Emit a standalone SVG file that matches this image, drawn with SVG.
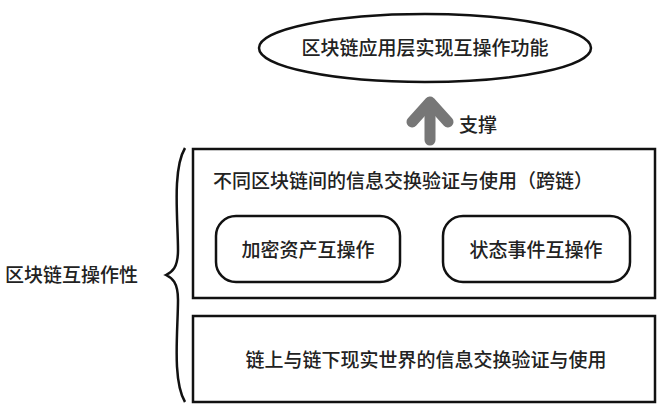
<svg xmlns="http://www.w3.org/2000/svg" width="663" height="413" viewBox="0 0 663 413">
<style>
text{font-family:"Noto Sans CJK SC",sans-serif;fill:#222;font-size:19px;font-weight:500}
.b{fill:#fff;stroke:#111;stroke-width:2.5}
</style>
<rect width="663" height="413" fill="#fff"/>
<g id="top"><ellipse class="b" cx="425" cy="48" rx="166" ry="34"/><text x="425" y="55" text-anchor="middle" font-size="21">区块链应用层实现互操作功能</text></g>
<g id="connectors">
<path d="M430 140V108" stroke="#777" stroke-width="11" stroke-linecap="round" fill="none"/>
<path d="M412 122L430 102L448 122" stroke="#777" stroke-width="11" stroke-linecap="round" stroke-linejoin="round" fill="none"/>
<text x="459" y="132" font-size="20">支撑</text>
</g>
<g id="crosschain"><rect class="b" x="193" y="149" width="462" height="149"/><text x="213" y="188" font-size="21">不同区块链间的信息交换验证与使用（跨链）</text></g>
<g id="asset"><rect class="b" x="216" y="216" width="184" height="66" rx="20"/><text x="308" y="257" text-anchor="middle" font-size="18.5">加密资产互操作</text></g>
<g id="event"><rect class="b" x="443" y="216" width="187" height="66" rx="20"/><text x="536" y="257" text-anchor="middle" font-size="18.5">状态事件互操作</text></g>
<g id="offchain"><rect class="b" x="193" y="316" width="462" height="86"/><text x="426" y="367" text-anchor="middle" font-size="21">链上与链下现实世界的信息交换验证与使用</text></g>
<g id="brace"><path d="M185 148C172 170 178 220 178 250C178 268 172 272 166 275C172 278 178 282 178 300C178 330 172 380 185 402" fill="none" stroke="#111" stroke-width="2.5"/><text x="5" y="282" font-size="22">区块链互操作性</text></g>
</svg>
